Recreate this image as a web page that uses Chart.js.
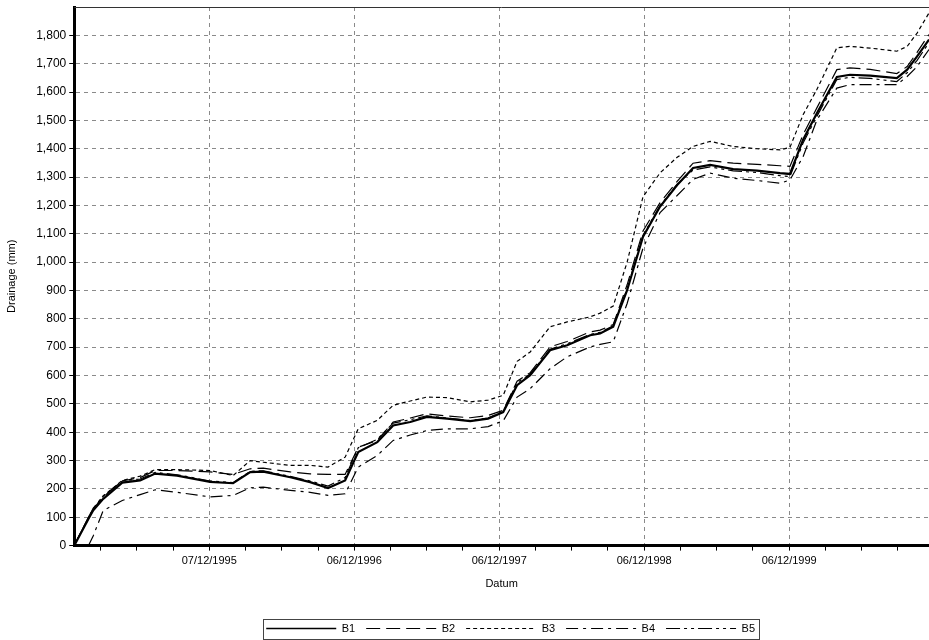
<!DOCTYPE html>
<html>
<head>
<meta charset="utf-8">
<title>Drainage B1–B5</title>
<script src="https://cdn.jsdelivr.net/npm/chart.js@4.4.1/dist/chart.umd.min.js"></script>
<style>
  html, body { margin: 0; padding: 0; background: #fff; overflow: hidden; }
  #wrap { width: 929px; height: 640px; }
</style>
</head>
<body>
<div id="wrap"><canvas id="c" width="929" height="640"></canvas></div>
<script>
// Observation dates (ISO) shared by all series
const dates = [
  '1995-01-01','1995-02-06','1995-02-18','1995-03-15','1995-05-02','1995-06-16','1995-07-24','1995-09-17','1995-12-09',
  '1996-02-05','1996-03-19','1996-04-21','1996-06-28','1996-08-17','1996-10-01','1996-11-13','1996-12-16',
  '1997-02-02','1997-03-14','1997-04-26','1997-06-07','1997-07-28','1997-09-24','1997-11-08','1997-12-16',
  '1998-01-20','1998-02-22','1998-04-13','1998-05-26','1998-07-23','1998-08-17','1998-09-19','1998-10-24','1998-12-03',
  '1999-01-15','1999-02-27','1999-04-08','1999-05-21','1999-07-18','1999-09-16','1999-11-13','1999-12-08',
  '2000-01-10','2000-02-14','2000-04-04','2000-05-07','2000-06-27','2000-09-02','2000-09-28','2000-10-23','2000-11-22'
];

// Cumulative drainage (mm)
const b1 = [0,95,125,165,222,230,254,247,225, 220,259,261,241,224,203,230,330, 365,424,436,454,448,439,448,471,
  566,601,689,707,742,748,772,901,1090, 1196,1272,1332,1343,1328,1323,1314,1311, 1432,1526,1653,1661,1658,1649,1679,1726,1785];
const b2 = [0,100,130,172,228,240,265,265,260, 251,271,273,260,253,251,251,347, 371,436,450,465,457,451,459,477,
  580,610,701,720,754,760,780,920,1110, 1210,1285,1349,1358,1349,1345,1340,1338, 1450,1545,1679,1685,1680,1665,1690,1740,1803];
const b3 = [0,100,130,175,230,245,268,268,265, 247,300,294,283,283,277,312,412, 442,495,510,524,522,507,513,530,
  650,683,772,789,807,820,845,1000,1231, 1315,1370,1408,1426,1408,1400,1396,1405, 1520,1610,1756,1761,1755,1744,1761,1808,1879];
const b4 = [null,0,35,124,159,180,197,188,172, 177,204,206,195,188,177,183,277, 318,371,390,406,412,412,420,440,
  524,554,624,666,701,710,719,854,1050, 1175,1235,1292,1314,1296,1288,1278,1290, 1372,1502,1614,1626,1626,1626,1655,1690,1750];
const b5 = [0,100,132,175,228,235,258,250,228, 222,262,264,244,228,210,240,345, 375,432,444,458,450,441,450,474,
  575,605,693,712,745,752,775,905,1095, 1200,1275,1325,1336,1322,1316,1305,1302, 1420,1515,1644,1652,1648,1637,1668,1712,1774];

const seriesNames = ['B1', 'B2', 'B3', 'B4', 'B5'];
const xTickLabels = ['07/12/1995', '06/12/1996', '06/12/1997', '06/12/1998', '06/12/1999'];
const yMax = 1900;

const DAY = 86400000;
const t0 = Date.parse(dates[0]);
const dayOf = iso => Math.round((Date.parse(iso) - t0) / DAY);
const dmyToIso = s => { const [d, m, y] = s.split('/'); return `${y}-${m}-${d}`; };

const xMax = dayOf(dates[dates.length - 1]);
const majorDays = xTickLabels.map(s => dayOf(dmyToIso(s)));
const labelByDay = new Map(majorDays.map((d, i) => [d, xTickLabels[i]]));

// Quarter-year minor ticks between the yearly labels
const tickDays = [];
for (let k = -8; k < 40; k++) {
  const v = majorDays[0] + k * 91.25;
  if (v >= 0 && v <= xMax) tickDays.push(v);
}

const toPoints = vals => dates.map((d, i) => ({ x: dayOf(d), y: vals[i] }));

const styles = [
  { data: b1, width: 2.2, dash: [] },
  { data: b2, width: 1.2, dash: [14, 6] },
  { data: b3, width: 1.2, dash: [4, 3] },
  { data: b4, width: 1.2, dash: [12, 5, 3, 5] },
  { data: b5, width: 1.2, dash: [14, 4, 3, 4, 3, 4] }
];

const datasets = styles.map((s, i) => ({
  label: seriesNames[i],
  data: toPoints(s.data),
  borderColor: '#000',
  backgroundColor: '#000',
  borderWidth: s.width,
  borderDash: s.dash,
  pointRadius: 0,
  tension: 0,
  fill: false
}));

// Legend entries drawn as line samples carrying each series' dash pattern
const legendLabels = chart => chart.data.datasets.map((ds, i) => ({
  text: ds.label,
  datasetIndex: i,
  fillStyle: 'rgba(0,0,0,0)',
  strokeStyle: ds.borderColor,
  fontColor: '#000',
  lineWidth: Math.min(ds.borderWidth, 1.5),
  lineDash: ds.borderDash,
  lineCap: 'butt',
  pointStyle: 'line',
  hidden: false
}));

// Top edge of the plot frame and the box around the legend
const frameBits = {
  id: 'frameBits',
  afterLayout(chart) {
    const lg = chart.legend;
    if (lg) { lg.left += 9; lg.right += 9; lg.top += 4; lg.bottom += 4; }
  },
  afterDraw(chart) {
    const { ctx, chartArea } = chart;
    ctx.save();
    ctx.strokeStyle = '#333';
    ctx.lineWidth = 1;
    ctx.beginPath();
    ctx.moveTo(chartArea.left, Math.round(chartArea.top) + 0.5);
    ctx.lineTo(chartArea.right, Math.round(chartArea.top) + 0.5);
    ctx.stroke();

    const hb = chart.legend && chart.legend.legendHitBoxes;
    if (hb && hb.length) {
      const first = hb[0], last = hb[hb.length - 1];
      const l = Math.round(first.left - 3) + 0.5;
      const r = Math.round(last.left + last.width + 4) + 0.5;
      const t = Math.round(first.top - 4) + 0.5;
      const b = Math.round(first.top + first.height + 5) + 0.5;
      ctx.strokeStyle = '#444';
      ctx.strokeRect(l, t, r - l, b - t);
    }
    ctx.restore();
  }
};

Chart.defaults.font.family = '"Liberation Sans", Arial, Helvetica, sans-serif';
Chart.defaults.font.size = 11;
Chart.defaults.color = '#000';

new Chart(document.getElementById('c'), {
  type: 'line',
  data: { datasets },
  plugins: [frameBits],
  options: {
    responsive: false,
    animation: false,
    layout: { padding: { top: 7, left: 4, right: 0, bottom: 0 } },
    plugins: {
      title: { display: false },
      tooltip: { enabled: false },
      legend: {
        position: 'bottom',
        fullSize: false,
        labels: {
          usePointStyle: true,
          pointStyle: 'line',
          pointStyleWidth: 70,
          padding: 11,
          color: '#000',
          font: { size: 11 },
          generateLabels: legendLabels
        }
      }
    },
    scales: {
      x: {
        type: 'linear',
        min: 0,
        max: xMax,
        afterBuildTicks: scale => { scale.ticks = tickDays.map(v => ({ value: v })); },
        ticks: {
          autoSkip: false,
          maxRotation: 0,
          padding: 4,
          color: '#000',
          callback: v => labelByDay.get(v) || ''
        },
        grid: {
          color: c => (c.tick && labelByDay.has(c.tick.value)) ? '#8a8a8a' : 'rgba(0,0,0,0)',
          lineWidth: 1,
          tickLength: 5,
          tickColor: '#000'
        },
        border: { display: true, color: '#000', width: 3, dash: [4, 4] },
        title: {
          display: true,
          text: 'Datum',
          color: '#000',
          font: { size: 11 },
          padding: { top: 6, bottom: 17 }
        }
      },
      y: {
        min: 0,
        max: yMax,
        // the top of the range is left unlabelled
        afterBuildTicks: scale => { scale.ticks = scale.ticks.filter(t => t.value < yMax); },
        ticks: {
          stepSize: 100,
          padding: 3,
          color: '#000',
          font: { size: 12, lineHeight: 0.6 },
          callback: v => v.toLocaleString('en-US')
        },
        grid: {
          color: c => (c.tick && c.tick.value === 0) ? 'rgba(0,0,0,0)' : '#8a8a8a',
          lineWidth: 1,
          tickLength: 5,
          tickColor: '#000'
        },
        border: { display: true, color: '#000', width: 3, dash: [4, 4] },
        title: {
          display: true,
          text: 'Drainage (mm)',
          color: '#000',
          font: { size: 11 },
          padding: { top: 1, bottom: 15 }
        }
      }
    }
  }
});
</script>
</body>
</html>
